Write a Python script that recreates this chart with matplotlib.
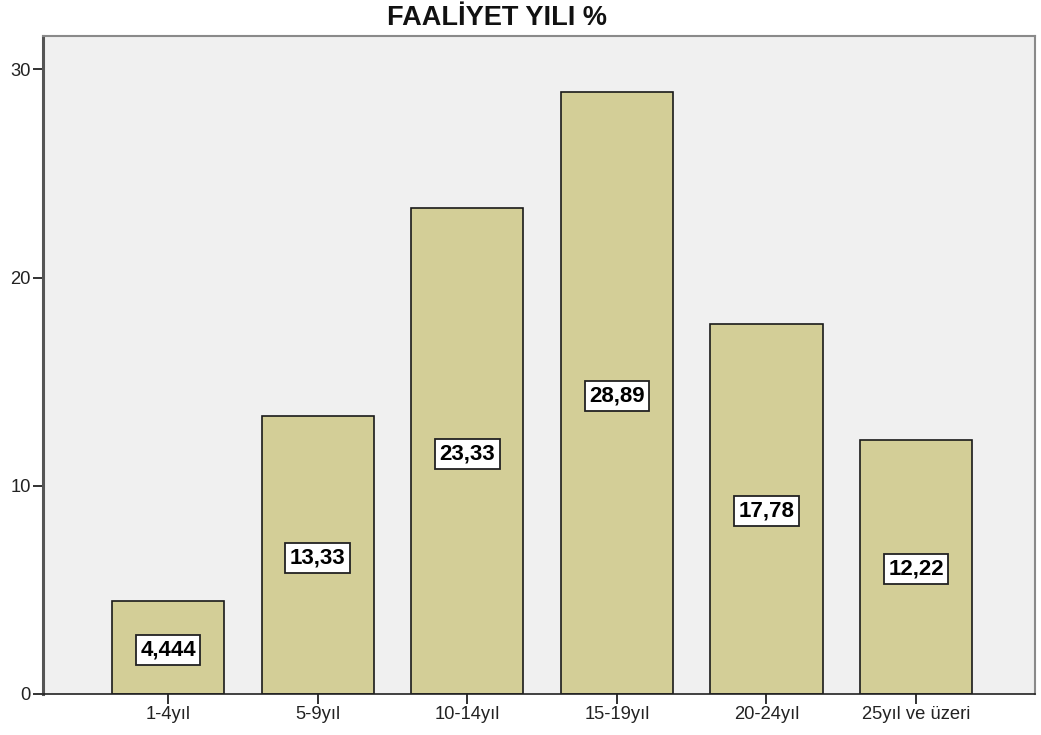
import matplotlib
matplotlib.use("Agg")
import matplotlib.pyplot as plt

categories = ["1-4yıl", "5-9yıl", "10-14yıl", "15-19yıl", "20-24yıl", "25yıl ve üzeri"]
values = [4.444, 13.33, 23.33, 28.89, 17.78, 12.22]
value_labels = ["4,444", "13,33", "23,33", "28,89", "17,78", "12,22"]
y_ticks = [0, 10, 20, 30]

plt.rcParams["font.family"] = ["Liberation Sans", "DejaVu Sans"]

fig = plt.figure(figsize=(10.41, 7.35), dpi=100)
fig.patch.set_facecolor("white")
ax = fig.add_axes([0.0413, 0.0558, 0.9529, 0.8952])
ax.set_facecolor("#F0F0F0")

x = list(range(len(categories)))
ax.bar(x, values, width=0.75, color="#D3CE97", edgecolor="#1a1a1a", linewidth=1.2, zorder=2)

for xi, v, lab in zip(x, values, value_labels):
    ax.text(xi, v / 2 - 0.12, lab, ha="center", va="center", fontsize=16, fontweight="bold",
            color="black",
            bbox=dict(boxstyle="square,pad=0.2", facecolor="white", edgecolor="#222222", linewidth=1.3),
            zorder=3)

ax.set_xlim(-0.836, 5.795)
ax.set_ylim(0, 31.6)
ax.set_xticks(x)
ax.set_xticklabels(categories, fontsize=13.2, color="#222222")
ax.set_yticks(y_ticks)
ax.set_yticklabels([str(t) for t in y_ticks], fontsize=13.2, color="#222222")
ax.tick_params(axis="y", direction="out", length=7.5, width=1.3, color="#222222", pad=1.2)
ax.tick_params(axis="x", direction="out", length=7, width=1.3, color="#222222", pad=2)

for side in ["top", "right"]:
    ax.spines[side].set_color("#8a8a8a")
    ax.spines[side].set_linewidth(1.5)
ax.spines["left"].set_color("#555555")
ax.spines["left"].set_linewidth(2.2)
ax.spines["bottom"].set_color("#222222")
ax.spines["bottom"].set_linewidth(1.2)

fig.text(0.477, 0.975, "FAALİYET YILI %", ha="center", va="center", fontsize=19.5, fontweight="bold", color="#111111")

fig.savefig("out.png", dpi=100)
